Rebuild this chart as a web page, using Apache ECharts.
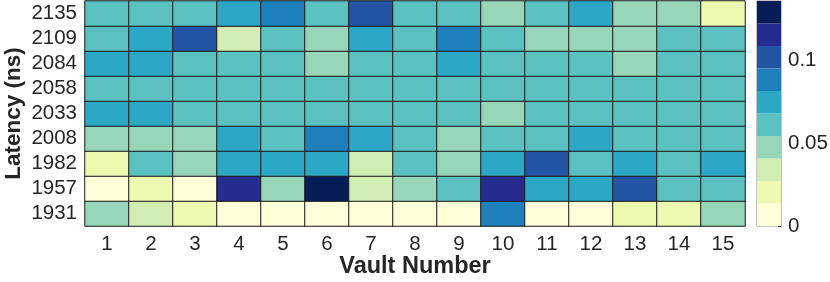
<!DOCTYPE html>
<html>
<head>
<meta charset="utf-8">
<script src="https://cdn.jsdelivr.net/npm/echarts@6/dist/echarts.min.js"></script>
<style>
  html, body { margin: 0; padding: 0; background: #fff; }
  #chart { width: 830px; height: 282px; }
</style>
</head>
<body>
<div id="chart"></div>
<script>
// ---- Data ----
const vaults = ['1','2','3','4','5','6','7','8','9','10','11','12','13','14','15'];
const latencies = ['1931','1957','1982','2008','2033','2058','2084','2109','2135'];

const row1931 = [0.048,0.034,0.020,0.007,0.007,0.007,0.007,0.007,0.007,0.088,0.007,0.007,0.020,0.020,0.048];
const row1957 = [0.007,0.020,0.007,0.116,0.048,0.129,0.034,0.048,0.061,0.116,0.075,0.075,0.102,0.061,0.061];
const row1982 = [0.020,0.061,0.048,0.075,0.075,0.075,0.034,0.061,0.048,0.075,0.102,0.061,0.075,0.061,0.075];
const row2008 = [0.048,0.048,0.048,0.075,0.061,0.088,0.075,0.061,0.048,0.061,0.061,0.075,0.061,0.061,0.061];
const row2033 = [0.075,0.075,0.061,0.061,0.061,0.061,0.061,0.061,0.061,0.048,0.061,0.061,0.061,0.061,0.061];
const row2058 = [0.061,0.061,0.061,0.061,0.061,0.061,0.061,0.061,0.061,0.061,0.061,0.061,0.061,0.061,0.061];
const row2084 = [0.075,0.075,0.061,0.061,0.061,0.048,0.061,0.061,0.075,0.061,0.061,0.061,0.048,0.061,0.061];
const row2109 = [0.061,0.075,0.102,0.034,0.061,0.048,0.075,0.061,0.088,0.061,0.048,0.048,0.048,0.061,0.061];
const row2135 = [0.061,0.061,0.061,0.075,0.088,0.061,0.102,0.061,0.061,0.048,0.061,0.075,0.048,0.048,0.020];

const rows = [row1931,row1957,row1982,row2008,row2033,row2058,row2084,row2109,row2135];

// colour bar
const cbarMax = 0.136;
const cbarTicks = [0, 0.05, 0.1];
const bandColors = ['#FEFED9','#EDF8B1','#D1EDB3','#97D6B9','#5BC1C0','#2CA7C5','#1D80BA','#2355A4','#262B8F','#081D58'];

// ---- Build ----
const heatData = [];
rows.forEach((r, yi) => r.forEach((v, xi) => heatData.push([xi, yi, v])));

const nb = bandColors.length;
const step = cbarMax / nb;
const pieces = bandColors.map((c, i) => ({
  gte: i === 0 ? -1 : i * step,
  lt: i === nb - 1 ? 1 : (i + 1) * step,
  color: c
}));

const txt = '#262626';
const font = 'Liberation Sans, Arial, Helvetica, sans-serif';

const cbSeries = bandColors.map((c, i) => ({
  type: 'bar',
  xAxisIndex: 1, yAxisIndex: 1,
  stack: 'cb',
  barWidth: '100%',
  silent: true,
  data: [step],
  itemStyle: { color: c }
}));

const chart = echarts.init(document.getElementById('chart'));
chart.setOption({
  animation: false,
  textStyle: { fontFamily: font, color: txt },
  grid: [
    { left: 85, top: 1, width: 660, height: 225, show: false, containLabel: false, outerBoundsMode: 'none' },
    { left: 757, top: 1, width: 24, height: 225, show: true, borderColor: '#8a8a8a', borderWidth: 1, containLabel: false, outerBoundsMode: 'none' }
  ],
  xAxis: [
    {
      gridIndex: 0, type: 'category', data: vaults,
      axisLine: { show: false }, axisTick: { show: false }, splitLine: { show: false },
      axisLabel: { fontSize: 20.5, color: txt, margin: 8, fontFamily: font, interval: 0 },
      name: 'Vault Number', nameLocation: 'middle', nameGap: 29, nameMoveOverlap: false,
      nameTextStyle: { fontSize: 23.5, fontWeight: 'bold', color: txt, fontFamily: font }
    },
    {
      gridIndex: 1, type: 'category', data: ['cb'],
      axisLine: { show: false }, axisTick: { show: false }, axisLabel: { show: false }
    }
  ],
  yAxis: [
    {
      gridIndex: 0, type: 'category', data: latencies,
      axisLine: { show: false }, axisTick: { show: false }, splitLine: { show: false },
      axisLabel: { fontSize: 20.5, color: txt, margin: 8, fontFamily: font, interval: 0 },
      name: 'Latency (ns)', nameLocation: 'middle', nameGap: 60, nameMoveOverlap: false,
      nameTextStyle: { fontSize: 22.5, fontWeight: 'bold', color: txt, fontFamily: font }
    },
    {
      gridIndex: 1, type: 'value', position: 'right', min: 0, max: cbarMax, interval: 0.05,
      axisLine: { show: false },
      splitLine: { show: false },
      axisTick: { show: true, inside: true, length: 3, lineStyle: { color: '#333' } },
      axisLabel: {
        fontSize: 20.5, color: txt, margin: 7, fontFamily: font, showMaxLabel: false,
        formatter: v => cbarTicks.some(t => Math.abs(t - v) < 1e-9) ? String(v) : ''
      }
    }
  ],
  visualMap: {
    show: false, type: 'piecewise', seriesIndex: 0, dimension: 2, pieces: pieces
  },
  series: [
    {
      type: 'heatmap', xAxisIndex: 0, yAxisIndex: 0, data: heatData,
      itemStyle: { borderColor: '#1a1a1a', borderWidth: 1 },
      emphasis: { disabled: true }
    }
  ].concat(cbSeries)
});
</script>
</body>
</html>
